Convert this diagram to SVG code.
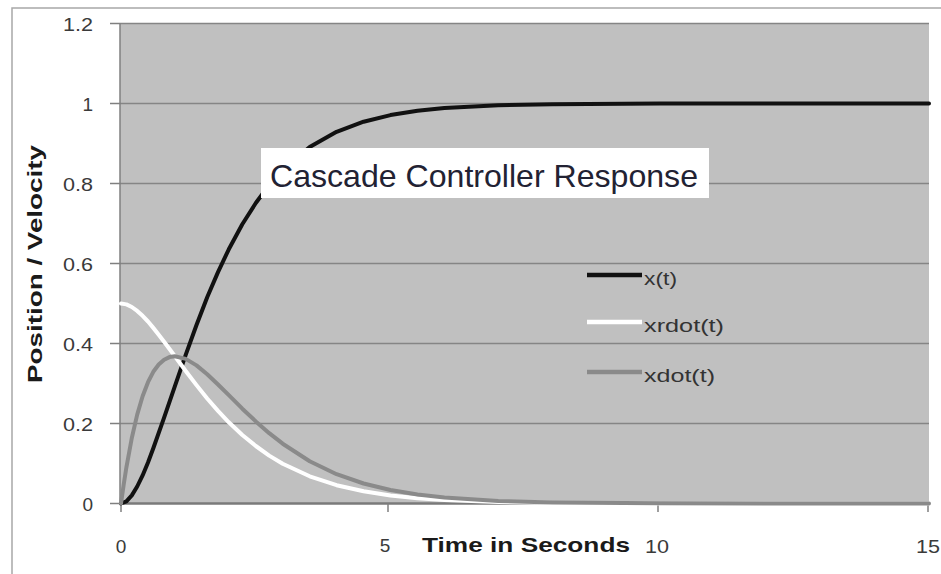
<svg xmlns="http://www.w3.org/2000/svg" width="941" height="574" viewBox="0 0 941 574">
<style>
.grid{stroke:#858585;stroke-width:1.5;fill:none}
.tick{stroke:#808080;stroke-width:1.5;fill:none}
.curve{fill:none;stroke-width:4;stroke-linejoin:round;stroke-linecap:round}
.num{font-family:"Liberation Sans",Arial,sans-serif;font-size:19px;fill:#3a3a3a}
.ttl{font-family:"Liberation Sans",Arial,sans-serif;font-size:21px;font-weight:bold;fill:#1a1a1a}
.leg{font-family:"Liberation Sans",Arial,sans-serif;font-size:18px;fill:#333}
</style>
<rect x="0" y="0" width="941" height="574" fill="#ffffff"/>
<g id="frame">
<path d="M12,580 V8 H950" fill="none" stroke="#a8a8a8" stroke-width="1.5"/>
</g>
<g id="plot-area">
<rect x="120" y="23.5" width="809" height="480" fill="#c0c0c0"/>
<path class="grid" d="M120,23.5 H929 M120,103.5 H929 M120,183.5 H929 M120,263.5 H929 M120,343.5 H929 M120,423.5 H929"/>
<path class="tick" d="M120,23.5 V505 M110,23.5 H120 M110,103.5 H120 M110,183.5 H120 M110,263.5 H120 M110,343.5 H120 M110,423.5 H120 M110,503.5 H120"/>
<path d="M120,503.5 H929" stroke="#7a7a7a" stroke-width="2.5" fill="none"/>
<path class="tick" d="M121,503.5 V512 M388,503.5 V512 M658,503.5 V512 M928,503.5 V512"/>
</g>
<g id="y-axis-labels">
<text class="num" x="93" y="31" text-anchor="end" textLength="30" lengthAdjust="spacingAndGlyphs">1.2</text>
<text class="num" x="93" y="111" text-anchor="end">1</text>
<text class="num" x="93" y="191" text-anchor="end" textLength="30" lengthAdjust="spacingAndGlyphs">0.8</text>
<text class="num" x="93" y="271" text-anchor="end" textLength="30" lengthAdjust="spacingAndGlyphs">0.6</text>
<text class="num" x="93" y="351" text-anchor="end" textLength="30" lengthAdjust="spacingAndGlyphs">0.4</text>
<text class="num" x="93" y="431" text-anchor="end" textLength="30" lengthAdjust="spacingAndGlyphs">0.2</text>
<text class="num" x="93" y="511" text-anchor="end">0</text>
</g>
<g id="x-axis-labels">
<text class="num" x="121" y="553" text-anchor="middle">0</text>
<text class="num" x="385" y="552" text-anchor="middle">5</text>
<text class="num" x="657" y="553" text-anchor="middle" textLength="24" lengthAdjust="spacingAndGlyphs">10</text>
<text class="num" x="928" y="553" text-anchor="middle" textLength="24" lengthAdjust="spacingAndGlyphs">15</text>
</g>
<g id="axis-titles">
<text class="ttl" x="422" y="552" textLength="208" lengthAdjust="spacingAndGlyphs">Time in Seconds</text>
<text class="ttl" transform="translate(42,264) rotate(-90)" text-anchor="middle" textLength="238" lengthAdjust="spacingAndGlyphs">Position / Velocity</text>
</g>
<g id="series">
<polyline id="x-t" class="curve" stroke="#111111" points="121,503.5 126.4,501.3 131.8,495.4 137.2,486.5 142.6,475.4 148,462.5 153.3,448.3 164.1,417.7 174.9,386.1 185.7,354.8 196.5,325 207.2,297.3 218,272.1 228.8,249.3 242.3,224.3 255.8,203 269.2,185 282.7,169.9 309.7,147.1 336.6,131.8 363.6,121.7 390.5,115.1 417.5,110.8 444.4,108.1 498.3,105.3 552.2,104.2 660,103.6 929,103.5"/>
<polyline id="xrdot-t" class="curve" stroke="#ffffff" points="121,303.5 126.4,304.4 131.8,307 137.2,310.9 142.6,315.8 148,321.5 153.3,327.9 158.7,334.7 164.1,341.7 169.5,349 174.9,356.3 185.7,371 196.5,385.1 207.2,398.5 218,410.9 228.8,422.3 242.3,435 255.8,446 269.2,455.6 282.7,463.7 309.7,476.3 336.6,485.2 363.6,491.3 390.5,495.4 417.5,498.2 444.4,500 498.3,502 552.2,502.9 660,503.4 929,503.5"/>
<polyline id="xdot-t" class="curve" stroke="#8a8a8a" points="121,503.5 123.7,484.5 126.4,467.3 131.8,438 137.2,414.6 142.6,396.3 148,382.2 153.3,371.8 158.7,364.5 164.1,359.7 169.5,357.1 174.9,356.3 185.7,358.9 196.5,365.4 207.2,374.3 218,384.5 228.8,395.2 242.3,408.7 255.8,421.4 269.2,433.2 282.7,443.7 309.7,461.2 336.6,474.2 363.6,483.5 390.5,490 417.5,494.5 444.4,497.5 498.3,500.9 552.2,502.4 660,503.3 929,503.5"/>
</g>
<g id="chart-title">
<rect x="261" y="148" width="448" height="50" fill="#ffffff"/>
<text x="270" y="187" font-family="'Liberation Sans',Arial,sans-serif" font-size="32" fill="#222233" textLength="428" lengthAdjust="spacingAndGlyphs">Cascade Controller Response</text>
</g>
<g id="legend">
<line x1="587" y1="275" x2="642" y2="275" stroke="#111111" stroke-width="4.5"/>
<text class="leg" x="644" y="285" textLength="33" lengthAdjust="spacingAndGlyphs">x(t)</text>
<line x1="587" y1="322" x2="642" y2="322" stroke="#ffffff" stroke-width="4.5"/>
<text class="leg" x="644" y="332" textLength="80" lengthAdjust="spacingAndGlyphs">xrdot(t)</text>
<line x1="587" y1="372" x2="642" y2="372" stroke="#8a8a8a" stroke-width="4.5"/>
<text class="leg" x="644" y="382" textLength="71" lengthAdjust="spacingAndGlyphs">xdot(t)</text>
</g>
</svg>
